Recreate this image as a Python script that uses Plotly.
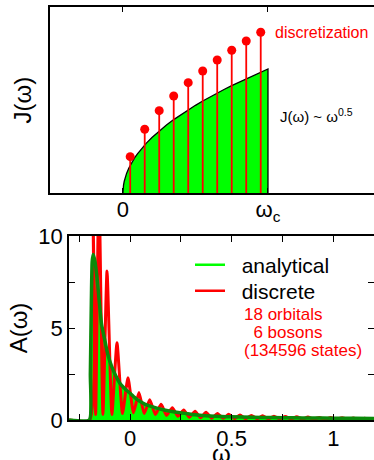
import plotly.graph_objects as go

# ---------------- Top panel data: spectral density J(omega) ----------------
j_omega = [0.0, 0.001, 0.004, 0.009, 0.015, 0.025, 0.04, 0.06, 0.08, 0.1, 0.13, 0.16, 0.2, 0.25,
           0.3, 0.35, 0.4, 0.45, 0.5, 0.55, 0.6, 0.65, 0.7, 0.75, 0.8, 0.85, 0.9, 0.95, 1.0, 1.0]
j_value = [0.0, 0.032, 0.063, 0.095, 0.122, 0.158, 0.2, 0.245, 0.283, 0.316, 0.36, 0.4, 0.447, 0.5,
           0.548, 0.592, 0.632, 0.671, 0.707, 0.742, 0.775, 0.806, 0.837, 0.866, 0.894, 0.922,
           0.949, 0.975, 1.0, 0.0]
stem_omega = [0.05, 0.15, 0.25, 0.35, 0.45, 0.55, 0.65, 0.75, 0.85, 0.95]
stem_value = [0.293, 0.514, 0.664, 0.782, 0.890, 0.984, 1.073, 1.151, 1.226, 1.296]
top_ticks = [0, 1]
top_ticktext = ["0", "ω<sub>c</sub>"]

# ---------------- Bottom panel data: A(omega) ----------------
ana_omega = [-0.30, -0.200, -0.195, -0.190, -0.186, -0.181, -0.172, -0.160, -0.150, -0.140, -0.125,
             -0.110, -0.090, -0.070, -0.050, -0.025, 0.000, 0.025, 0.050, 0.075, 0.100, 0.140,
             0.180, 0.220, 0.270, 0.320, 0.370, 0.450, 0.500, 0.600, 0.700, 0.800, 0.900, 1.000,
             1.100, 1.200]
ana_value = [0.0, 0.0, 2.5, 6.5, 8.6, 9.0, 8.6, 7.5, 6.3, 5.2, 4.4,
             3.6, 2.9, 2.4, 2.0, 1.7, 1.45, 1.2, 1.0, 0.85, 0.75, 0.62,
             0.52, 0.44, 0.36, 0.28, 0.23, 0.19, 0.17, 0.15, 0.13, 0.12, 0.11, 0.10,
             0.09, 0.08]

disc_omega = [-0.30, -0.198, -0.185, -0.169, -0.153, -0.133, -0.113, -0.089, -0.064, -0.037,
              -0.010, 0.017, 0.044, 0.070, 0.097, 0.125, 0.153, 0.180, 0.208, 0.236, 0.264,
              0.292, 0.320, 0.347, 0.374, 0.402, 0.430, 0.458, 0.486, 0.514, 0.541, 0.569,
              0.597, 0.625, 0.652, 0.680, 0.708, 0.736, 0.764, 0.792, 0.820, 0.848, 0.875,
              0.903, 0.931, 0.959, 0.987, 1.015, 1.043, 1.071, 1.098, 1.126, 1.154, 1.182, 1.20]
disc_value = [0.0, 0.0, 13.0, 0.3, 13.0, 0.3, 8.1, 0.3, 4.2, 0.35,
              2.3, 0.4, 1.5, 0.35, 1.1, 0.3, 0.85, 0.25, 0.67, 0.2, 0.54,
              0.15, 0.48, 0.12, 0.42, 0.1, 0.36, 0.09, 0.31, 0.08, 0.27, 0.07,
              0.25, 0.07, 0.23, 0.06, 0.21, 0.06, 0.19, 0.05, 0.17, 0.05, 0.16,
              0.05, 0.14, 0.04, 0.13, 0.04, 0.12, 0.04, 0.11, 0.03, 0.10, 0.03, 0.06]

bot_xticks = [-0.25, 0, 0.25, 0.5, 0.75, 1.0]
bot_xticktext = ["", "0", "", "0.5", "", "1"]
bot_yticks = [0, 2.5, 5, 7.5, 10]
bot_yticktext = ["0", "", "5", "", "10"]

RED = "#ff0000"
LIME = "#00ff00"
DKGREEN = "#0a8a0a"
FONT = "Liberation Sans, Arial, sans-serif"

fig = go.Figure()

# top: filled J(omega)
fig.add_trace(go.Scatter(x=j_omega, y=j_value, mode="lines", fill="tozeroy",
                         fillcolor=LIME, line=dict(color="black", width=1.3),
                         showlegend=False, xaxis="x", yaxis="y", hoverinfo="skip"))
# stems
sx, sy = [], []
for w, v in zip(stem_omega, stem_value):
    sx += [w, w, None]
    sy += [0, v, None]
fig.add_trace(go.Scatter(x=sx, y=sy, mode="lines", line=dict(color=RED, width=1.8),
                         showlegend=False, xaxis="x", yaxis="y", hoverinfo="skip"))
fig.add_trace(go.Scatter(x=stem_omega, y=stem_value, mode="markers",
                         marker=dict(color=RED, size=9), showlegend=False,
                         xaxis="x", yaxis="y", hoverinfo="skip"))

# bottom: analytical fill, discrete line, analytical line
fig.add_trace(go.Scatter(x=ana_omega, y=ana_value, mode="lines", fill="tozeroy",
                         fillcolor=LIME, line=dict(color=LIME, width=0),
                         showlegend=False, xaxis="x2", yaxis="y2", hoverinfo="skip"))
fig.add_trace(go.Scatter(x=disc_omega, y=disc_value, mode="lines",
                         line=dict(color=RED, width=3, shape="spline", smoothing=0.5),
                         showlegend=False, xaxis="x2", yaxis="y2", hoverinfo="skip"))
fig.add_trace(go.Scatter(x=ana_omega, y=ana_value, mode="lines",
                         line=dict(color=DKGREEN, width=3.5, shape="spline", smoothing=0.5),
                         showlegend=False, xaxis="x2", yaxis="y2", hoverinfo="skip"))
# legend entries
fig.add_trace(go.Scatter(x=[None], y=[None], mode="lines", name="\u00a0\u00a0analytical",
                         line=dict(color=LIME, width=2.5), xaxis="x2", yaxis="y2",
                         legend="legend"))
fig.add_trace(go.Scatter(x=[None], y=[None], mode="lines", name="\u00a0\u00a0discrete",
                         line=dict(color=RED, width=2.5), xaxis="x2", yaxis="y2",
                         legend="legend2"))

W, H = 374, 460
axis_common = dict(showline=True, linecolor="black", linewidth=1.5, showgrid=False,
                   zeroline=False, ticks="inside", tickcolor="black", tickwidth=1.3,
                   automargin=False, tickfont=dict(family=FONT, size=22, color="black"))
legend_common = dict(x=190 / W, xanchor="left", yanchor="middle", bgcolor="rgba(0,0,0,0)",
                     font=dict(family=FONT, size=21, color="black"), itemwidth=30)

fig.update_layout(
    width=W, height=H,
    margin=dict(l=0, r=0, t=0, b=0),
    paper_bgcolor="white", plot_bgcolor="white",
    font=dict(family=FONT, color="black"),
    xaxis=dict(axis_common, domain=[50 / W, 1], range=[-0.503, 1.731], tickvals=top_ticks,
               ticktext=top_ticktext, ticklen=5, mirror="ticks", anchor="y",
               ticklabelstandoff=-4),
    yaxis=dict(axis_common, domain=[(H - 193) / H, (H - 7) / H], range=[0, 1.5],
               showticklabels=False, ticks="", mirror=False, anchor="x",
               title=dict(text="J(ω)", font=dict(family=FONT, size=24), standoff=10)),
    xaxis2=dict(axis_common, domain=[69 / W, 1], range=[-0.3, 1.2], tickvals=bot_xticks,
                ticktext=bot_xticktext, ticklen=6, mirror="ticks", anchor="y2",
                ticklabelstandoff=-2),
    yaxis2=dict(axis_common, domain=[40 / H, 224 / H], range=[0, 10], tickvals=bot_yticks,
                ticktext=bot_yticktext, ticklen=6, mirror="ticks", anchor="x2",
                title=dict(text="A(ω)", font=dict(family=FONT, size=24), standoff=4)),
    legend=dict(legend_common, y=(H - 265) / H),
    legend2=dict(legend_common, y=(H - 291) / H),
    annotations=[
        dict(x=1.034, y=1.298, xref="x", yref="y", text="discretization", showarrow=False,
             xanchor="left", yanchor="middle", font=dict(family=FONT, size=16, color=RED)),
        dict(x=1.069, y=0.629, xref="x", yref="y", text="J(ω) ~ ω<sup>0.5</sup>", showarrow=False,
             xanchor="left", yanchor="middle", font=dict(family=FONT, size=15, color="black")),
        dict(x=242 / W, y=(H - 315) / H, xref="paper", yref="paper", text="18 orbitals",
             showarrow=False, xanchor="left", yanchor="middle",
             font=dict(family=FONT, size=17, color=RED)),
        dict(x=242 / W, y=(H - 333) / H, xref="paper", yref="paper", text="\u00a0\u00a06 bosons",
             showarrow=False, xanchor="left", yanchor="middle",
             font=dict(family=FONT, size=17, color=RED)),
        dict(x=242 / W, y=(H - 350) / H, xref="paper", yref="paper", text="(134596 states)",
             showarrow=False, xanchor="left", yanchor="middle",
             font=dict(family=FONT, size=17, color=RED)),
        dict(x=(69 / W + 1) / 2, y=(H - 453) / H, xref="paper", yref="paper", text="ω",
             showarrow=False, xanchor="center", yanchor="middle",
             font=dict(family=FONT, size=24, color="black")),
    ],
)

fig.write_html("out.html", config={"displayModeBar": False},
               post_script="document.body.style.margin='0';")
